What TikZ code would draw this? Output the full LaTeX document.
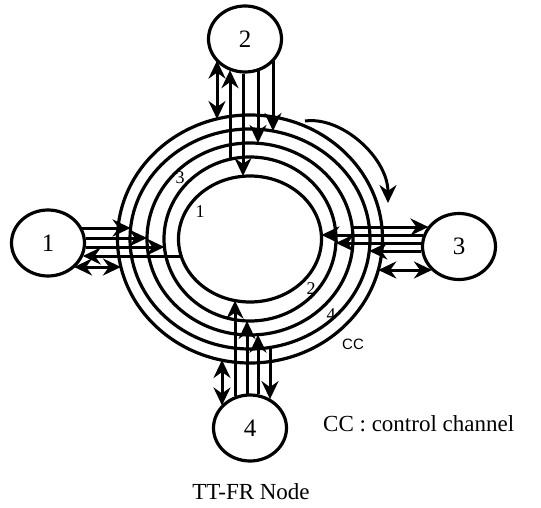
\documentclass[tikz,border=0pt]{standalone}
\usepackage{fontspec}
\setmainfont{Liberation Serif}
\setsansfont{Liberation Sans}
\usepackage{tikz}
\usetikzlibrary{arrows.meta, shapes.geometric}

\begin{document}
\begin{tikzpicture}[x=1pt, y=-1pt,
    ring/.style={line width=3.2pt},
    station/.style={ellipse, draw, line width=3.2pt, minimum width=73pt, minimum height=66pt,
      inner sep=0pt, font=\fontsize{25}{29}\selectfont},
    link/.style={line width=3pt, -{Stealth[length=18pt, width=17pt, inset=6pt]}},
    cclink/.style={line width=3pt,
      {Stealth[length=18pt, width=17pt, inset=6pt]}-{Stealth[length=18pt, width=17pt, inset=6pt]}},
    chlabel/.style={font=\fontsize{18}{20}\selectfont, inner sep=0pt}]
  \useasboundingbox (0,0) rectangle (541,508);

  \draw[ring] (250,239) ellipse (71.5 and 63);
  \draw[ring] (250,239) ellipse (86 and 82);
  \draw[ring] (250,239) ellipse (103 and 96);
  \draw[ring] (250,239) ellipse (120 and 110);
  \draw[ring] (250,239) ellipse (132.5 and 124);

  \node[station] (n1) at (48,243) {1};
  \node[station] (n2) at (245,39) {2};
  \node[station] (n3) at (459,246.5) {3};
  \node[station] (n4) at (250,428) {4};

  \coordinate (a2cc) at (217,119);
  \coordinate (a2r2) at (230,159);
  \coordinate (a2r1) at (243,176);
  \coordinate (a2r3) at (258,143);
  \coordinate (a2r4) at (273,131);
  \draw[cclink] (a2cc |- n2.216.7) -- (a2cc);
  \draw[link] (a2r2) -- (a2r2 |- n2.242.9);
  \draw[link] (a2r1 |- n2.266.4) -- (a2r1);
  \draw[link] (a2r3 |- n2.293.4) -- (a2r3);
  \draw[link] (a2r4 |- n2.323.3) -- (a2r4);

  \coordinate (a1r4) at (130.6,228);
  \coordinate (a1r3) at (147,238);
  \coordinate (a1r2) at (164.4,247);
  \coordinate (a1r1) at (181.2,256);
  \coordinate (a1cc) at (120.9,267);
  \draw[link] (a1r4 -| n1.24.8) -- (a1r4);
  \draw[link] (a1r3 -| n1.7.9) -- (a1r3);
  \draw[link] (a1r2 -| n1.353.7) -- (a1r2);
  \draw[link] (a1r1) -- (a1r1 -| n1.338.8);
  \draw[cclink] (a1cc -| n1.316.2) -- (a1cc);

  \coordinate (a3r3) at (352.2,227);
  \coordinate (a3r1) at (321.4,235);
  \coordinate (a3r2) at (335.9,243);
  \coordinate (a3r4) at (369.3,251);
  \coordinate (a3cc) at (378.3,270);
  \draw[link] (a3r3) -- (a3r3 -| n3.146.4);
  \draw[link] (a3r1 -| n3.161.4) -- (a3r1);
  \draw[link] (a3r2 -| n3.174.5) -- (a3r2);
  \draw[link] (a3r4 -| n3.187.1) -- (a3r4);
  \draw[cclink] (a3cc -| n3.222.6) -- (a3cc);

  \coordinate (a4cc) at (222,360);
  \coordinate (a4r1) at (235,300.6);
  \coordinate (a4r2) at (247,321);
  \coordinate (a4r3) at (258,334.7);
  \coordinate (a4r4) at (270,347.5);
  \draw[cclink] (a4cc |- n4.142.9) -- (a4cc);
  \draw[link] (a4r1 |- n4.116.5) -- (a4r1);
  \draw[link] (a4r2 |- n4.95.2) -- (a4r2);
  \draw[link] (a4r3 |- n4.76) -- (a4r3);
  \draw[link] (a4r4) -- (a4r4 |- n4.54.1);

  \coordinate (dirA) at (305,121);
  \coordinate (dirB) at (388,203);
  \draw[link] (dirA) .. controls (342,116) and (388,158) .. (dirB);

  \node[chlabel] (lab1) at (200,212) {1};
  \node[chlabel] (lab3) at (180,178) {3};
  \node[chlabel] (lab2) at (311,289) {2};
  \node[chlabel] (lab4) at (331,315) {4};
  \node[font=\sffamily\fontsize{15}{17}\selectfont, inner sep=0pt] (labcc) at (353,344) {CC};

  \node[font=\fontsize{23}{27}\selectfont, inner sep=0pt, anchor=west] (key) at (323,424) {CC : control channel};
  \node[font=\fontsize{23}{27}\selectfont, inner sep=0pt] (title) at (251,492) {TT-FR Node};
\end{tikzpicture}
\end{document}
